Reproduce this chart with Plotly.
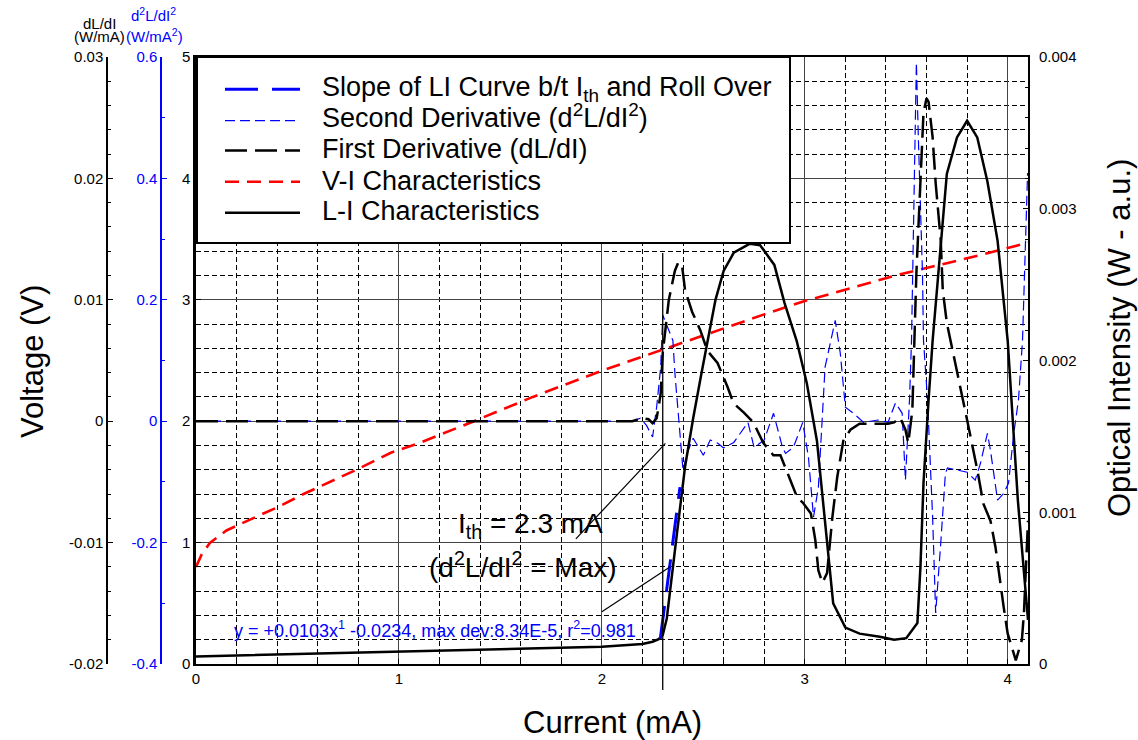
import plotly.graph_objects as go

# ---------------------------------------------------------------------------
# Measured characteristics of the laser diode
# ---------------------------------------------------------------------------
# L-I characteristic: drive current (mA) -> optical intensity (W, a.u.)
li_current = [0.0, 0.5, 1.0, 1.5, 2.0, 2.2, 2.25, 2.28, 2.30, 2.32, 2.33, 2.37, 2.41,
              2.45, 2.49, 2.52, 2.56, 2.60, 2.65, 2.73, 2.78, 2.85, 2.90, 2.96, 3.01,
              3.06, 3.11, 3.14, 3.20, 3.27, 3.37, 3.44, 3.50, 3.555, 3.57, 3.585, 3.61,
              3.63, 3.70, 3.75, 3.80, 3.85, 3.90, 3.95, 4.00, 4.05, 4.10]
li_power = [5.0e-5, 6.5e-5, 8.1e-5, 9.8e-5, 1.14e-4, 1.32e-4, 1.47e-4, 1.64e-4, 1.91e-4,
            3.0e-4, 4.2e-4, 8.6e-4, 1.30e-3, 1.62e-3, 1.91e-3, 2.11e-3, 2.40e-3, 2.59e-3,
            2.71e-3, 2.77e-3, 2.76e-3, 2.63e-3, 2.38e-3, 2.13e-3, 1.85e-3, 1.47e-3, 8.2e-4,
            4.0e-4, 2.4e-4, 2.0e-4, 1.8e-4, 1.6e-4, 1.7e-4, 2.7e-4, 6.4e-4, 1.19e-3, 1.74e-3,
            2.13e-3, 3.23e-3, 3.47e-3, 3.58e-3, 3.47e-3, 3.18e-3, 2.79e-3, 2.13e-3, 1.08e-3,
            2.9e-4]

# V-I characteristic: drive current (mA) -> forward voltage (V)
vi_current = [0.0, 0.03, 0.07, 0.15, 0.28, 0.40, 0.53, 0.66, 0.79, 0.96, 1.10, 1.37,
              1.66, 1.99, 2.30, 2.50, 2.80, 3.00, 3.47, 3.87, 4.10]
vi_voltage = [0.80, 0.91, 1.00, 1.10, 1.20, 1.29, 1.40, 1.50, 1.60, 1.74, 1.82, 2.00,
              2.20, 2.41, 2.59, 2.70, 2.88, 2.99, 3.21, 3.37, 3.47]

# First derivative dL/dI (W/mA)
d1_current = [0.0, 2.15, 2.20, 2.23, 2.25, 2.27, 2.28, 2.29, 2.30, 2.33, 2.36, 2.377,
              2.396, 2.41, 2.445, 2.485, 2.52, 2.57, 2.62, 2.648, 2.70, 2.747, 2.796,
              2.845, 2.88, 2.905, 2.93, 2.963, 2.99, 3.03, 3.052, 3.067, 3.087, 3.11,
              3.136, 3.16, 3.19, 3.225, 3.27, 3.41, 3.44, 3.47, 3.496, 3.51, 3.53, 3.55,
              3.57, 3.585, 3.60, 3.61, 3.63, 3.645, 3.67, 3.68, 3.70, 3.75, 3.80, 3.85,
              3.88, 3.915, 3.94, 3.98, 4.00, 4.02, 4.04, 4.07, 4.08, 4.10]
d1_value = [0.0, 0.0, 0.00025, 0.00016, -0.00016, 0.00025, 0.0012, 0.0023, 0.0056,
            0.0100, 0.0124, 0.0131, 0.0127, 0.0108, 0.0090, 0.0075, 0.0058, 0.0048,
            0.0028, 0.0015, 0.0007, -0.0001, -0.0018, -0.0028, -0.0028, -0.0038,
            -0.0049, -0.0063, -0.0067, -0.0076, -0.0098, -0.0123, -0.0133, -0.0125,
            -0.0079, -0.0046, -0.0016, -0.0007, -0.0002, -0.0002, -0.0001, 0.0003,
            -0.0007, -0.0018, 0.0009, 0.0122, 0.0204, 0.0254, 0.0266, 0.0263, 0.0234,
            0.0196, 0.0149, 0.0108, 0.0081, 0.0042, 0.0001, -0.0040, -0.0068, -0.0082,
            -0.0104, -0.0153, -0.0175, -0.0186, -0.0197, -0.0180, -0.0158, -0.0082]

# Second derivative d2L/dI2 (W/mA^2)
d2_current = [0.0, 2.15, 2.19, 2.22, 2.25, 2.27, 2.29, 2.30, 2.32, 2.35, 2.36, 2.38,
              2.40, 2.42, 2.45, 2.50, 2.534, 2.57, 2.60, 2.65, 2.70, 2.72, 2.75, 2.80,
              2.846, 2.89, 2.905, 2.944, 2.99, 3.018, 3.043, 3.067, 3.10, 3.15, 3.175,
              3.20, 3.24, 3.29, 3.36, 3.41, 3.447, 3.48, 3.496, 3.516, 3.526, 3.54,
              3.55, 3.56, 3.58, 3.585, 3.605, 3.63, 3.645, 3.67, 3.693, 3.703, 3.80,
              3.84, 3.866, 3.90, 3.915, 3.95, 3.98, 4.004, 4.03, 4.053, 4.073, 4.098]
d2_value = [0.0, 0.0, 0.005, -0.007, -0.026, 0.023, 0.089, 0.175, 0.158, 0.133, 0.079,
            -0.003, -0.081, -0.053, -0.028, -0.056, -0.031, -0.036, -0.044, -0.035,
            -0.010, -0.002, -0.043, -0.031, 0.013, -0.043, -0.053, -0.043, -0.002,
            -0.059, -0.158, -0.109, 0.089, 0.166, 0.112, 0.023, 0.013, -0.002, 0.002,
            -0.002, 0.030, 0.013, -0.097, 0.035, 0.133, 0.446, 0.591, 0.463, 0.244,
            0.133, 0.035, -0.158, -0.316, -0.201, -0.086, -0.077, -0.084, -0.097,
            -0.069, -0.020, -0.048, -0.130, -0.119, -0.102, -0.020, 0.035, 0.133, 0.409]

# Linear fit of the L-I curve between threshold and roll over
fit_slope = 0.0103
fit_intercept = -0.0234
fit_max_dev = "8.34E-5"
fit_r2 = 0.981
fit_current = [2.288, 2.385]
fit_power = [fit_slope * i + fit_intercept for i in fit_current]

# Threshold current (mA)
ith = 2.3

# Axis ticks
x_ticks = [0, 1, 2, 3, 4]
volt_ticks = [0, 1, 2, 3, 4, 5]
d1_ticks = [-0.02, -0.01, 0.0, 0.01, 0.02, 0.03]
d1_ticktext = ["-0.02", "-0.01", "0", "0.01", "0.02", "0.03"]
d2_ticks = [-0.4, -0.2, 0.0, 0.2, 0.4, 0.6]
d2_ticktext = ["-0.4", "-0.2", "0", "0.2", "0.4", "0.6"]
li_ticks = [0.0, 0.001, 0.002, 0.003, 0.004]
li_ticktext = ["0", "0.001", "0.002", "0.003", "0.004"]

assert len(li_current) == len(li_power)
assert len(vi_current) == len(vi_voltage)
assert len(d1_current) == len(d1_value)
assert len(d2_current) == len(d2_value)

# ---------------------------------------------------------------------------
# Page geometry
# ---------------------------------------------------------------------------
W, H = 1138, 740
M = dict(l=40, r=110, t=57, b=76)
FONT = "Liberation Sans, Arial, Helvetica, sans-serif"
BLUE = "#0000ff"
RED = "#ff0000"
TICK = 15


def px_x(p):
    """pixel column -> paper fraction"""
    return (p - M["l"]) / (W - M["l"] - M["r"])


def px_y(p):
    """pixel row -> paper fraction"""
    return (H - M["b"] - p) / (H - M["t"] - M["b"])


style_slope = dict(color=BLUE, width=3, dash="33px,14px")
style_d2 = dict(color=BLUE, width=1.2, dash="10px,5px")
style_d1 = dict(color="black", width=2.5, dash="22px,8px")
style_vi = dict(color=RED, width=2.6, dash="14px,8px")
style_li = dict(color="black", width=2.5, dash="solid")

fig = go.Figure()
fig.add_trace(go.Scatter(x=vi_current, y=vi_voltage, mode="lines", line=style_vi,
                         yaxis="y", hoverinfo="skip"))
fig.add_trace(go.Scatter(x=d2_current, y=d2_value, mode="lines", line=style_d2,
                         yaxis="y2", hoverinfo="skip"))
fig.add_trace(go.Scatter(x=d1_current, y=d1_value, mode="lines", line=style_d1,
                         yaxis="y3", hoverinfo="skip"))
fig.add_trace(go.Scatter(x=li_current, y=li_power, mode="lines", line=style_li,
                         yaxis="y4", hoverinfo="skip"))
fig.add_trace(go.Scatter(x=fit_current, y=fit_power, mode="lines", line=style_slope,
                         yaxis="y4", hoverinfo="skip"))

grid_major = "#444444"
minor_grid = dict(showgrid=True, gridcolor="black", gridwidth=1, griddash="5px,3px",
                  ticks="inside", ticklen=3, tickcolor="black")
tick_font = dict(family="Liberation Sans", size=TICK, color="black")

fig.update_layout(
    template="none",
    width=W, height=H,
    margin=dict(l=M["l"], r=M["r"], t=M["t"], b=M["b"], pad=0),
    paper_bgcolor="white", plot_bgcolor="white",
    font=dict(family=FONT, size=TICK, color="black"),
    showlegend=False,
    xaxis=dict(domain=[px_x(196), 1.0], range=[0, 4.1], tickmode="array",
               tickvals=x_ticks, ticks="inside", ticklen=5, tickcolor="black",
               showline=True, linecolor="black", linewidth=2, mirror=True,
               showgrid=True, gridcolor=grid_major, gridwidth=1, zeroline=False,
               minor=dict(dtick=0.2, tick0=0, **minor_grid),
               tickfont=tick_font, automargin=False),
    yaxis=dict(range=[0, 5], tickmode="array", tickvals=volt_ticks, ticks="inside",
               ticklen=5, tickcolor="black", showline=True, linecolor="black",
               linewidth=2.5, showgrid=True, gridcolor=grid_major, gridwidth=1,
               zeroline=False, minor=dict(dtick=0.2, tick0=0, **minor_grid),
               tickfont=tick_font, automargin=False),
    yaxis2=dict(overlaying="y", anchor="free", position=px_x(161), side="left",
                range=[-0.4, 0.6], tickmode="array", tickvals=d2_ticks,
                ticktext=d2_ticktext, ticks="inside", ticklen=5, tickcolor=BLUE,
                showline=True, linecolor=BLUE, linewidth=1.5, showgrid=False,
                zeroline=False,
                minor=dict(dtick=0.1, tick0=0, ticks="inside", ticklen=3,
                           tickcolor=BLUE, showgrid=False),
                tickfont=dict(tick_font, color=BLUE), automargin=False),
    yaxis3=dict(overlaying="y", anchor="free", position=px_x(107), side="left",
                range=[-0.02, 0.03], tickmode="array", tickvals=d1_ticks,
                ticktext=d1_ticktext, ticks="inside", ticklen=5, tickcolor="black",
                showline=True, linecolor="black", linewidth=1.5, showgrid=False,
                zeroline=False,
                minor=dict(dtick=0.002, tick0=0, ticks="inside", ticklen=3,
                           tickcolor="black", showgrid=False),
                tickfont=tick_font, automargin=False),
    yaxis4=dict(overlaying="y", anchor="x", side="right", range=[0, 0.004],
                tickmode="array", tickvals=li_ticks, ticktext=li_ticktext,
                ticks="inside", ticklen=5, tickcolor="black", showline=True,
                linecolor="black", linewidth=2, showgrid=False, zeroline=False,
                minor=dict(dtick=0.0002, tick0=0, ticks="inside", ticklen=3,
                           tickcolor="black", showgrid=False),
                tickfont=tick_font, ticklabelstandoff=6, automargin=False),
)

shapes = []
annotations = []


def paper_text(text, x, y, size, color="black", angle=0, xanchor="center"):
    """text placed at a pixel position on the page, centred on it"""
    return dict(text=text, xref="paper", yref="paper", x=px_x(x), y=px_y(y),
                xanchor=xanchor, yanchor="middle", textangle=angle,
                showarrow=False, font=dict(size=size, color=color))


# threshold marker, running below the current axis
shapes.append(dict(type="line", xref="x", yref="paper", x0=ith, x1=ith,
                   y0=px_y(690), y1=px_y(253), line=dict(color="black", width=1.3),
                   layer="above"))
# pointers from the threshold label
shapes.append(dict(type="line", xref="x", yref="y", x0=1.872, y0=1.03, x1=2.313,
                   y1=1.818, line=dict(color="black", width=1.2), layer="above"))
shapes.append(dict(type="line", xref="x", yref="y", x0=2.0, y0=0.431, x1=2.337,
                   y1=0.801, line=dict(color="black", width=1.2), layer="above"))

# legend box
shapes.append(dict(type="rect", xref="paper", yref="paper", x0=px_x(197), x1=px_x(790),
                   y0=px_y(243), y1=px_y(57), line=dict(color="black", width=2),
                   fillcolor="white", layer="above"))
legend_rows = [
    ("Slope of LI Curve b/t I<sub>th</sub> and Roll Over", style_slope, 89.3, 89.3),
    ("Second Derivative (d<sup>2</sup>L/dI<sup>2</sup>)", style_d2, 120.7, 116.4),
    ("First Derivative (dL/dI)", style_d1, 150.5, 148.6),
    ("V-I Characteristics", style_vi, 181.7, 180.6),
    ("L-I Characteristics", style_li, 212.7, 211.3),
]
for label, style, line_row, text_row in legend_rows:
    shapes.append(dict(type="line", xref="paper", yref="paper", x0=px_x(225),
                       x1=px_x(300), y0=px_y(line_row), y1=px_y(line_row),
                       line=style, layer="above"))
    annotations.append(paper_text(label, 320, text_row, 27, xanchor="left"))

# axis titles
annotations += [
    paper_text("Voltage (V)", 32, 362, 31, angle=-90),
    paper_text("Current (mA)", 612, 722.5, 31),
    paper_text("Optical Intensity (W - a.u.)", 1119, 338, 31, angle=-90),
    paper_text("dL/dI", 99, 23, 15),
    paper_text("(W/mA)", 99, 37, 15),
    paper_text("d<sup>2</sup>L/dI<sup>2</sup>", 153, 14.5, 15, color=BLUE),
    paper_text("(W/mA<sup>2</sup>)", 154.5, 36, 15, color=BLUE),
]

# threshold and fit labels
annotations += [
    dict(text=f"I<sub>th</sub> = {ith} mA", xref="x", yref="y", x=1.647, y=1.145,
         xanchor="center", yanchor="middle", showarrow=False, font=dict(size=28)),
    dict(text="(d<sup>2</sup>L/dI<sup>2</sup> = Max)", xref="x", yref="y", x=1.612,
         y=0.815, xanchor="center", yanchor="middle", showarrow=False,
         font=dict(size=28)),
    dict(text=(f"y = +{fit_slope}x<sup>1</sup> {fit_intercept}, max dev:{fit_max_dev}, "
               f"r<sup>2</sup>={fit_r2}"),
         xref="x", yref="y", x=1.176, y=0.287, xanchor="center", yanchor="middle",
         showarrow=False, font=dict(size=18, color=BLUE)),
]

fig.update_layout(shapes=shapes, annotations=annotations)
fig.write_html("out.html")
